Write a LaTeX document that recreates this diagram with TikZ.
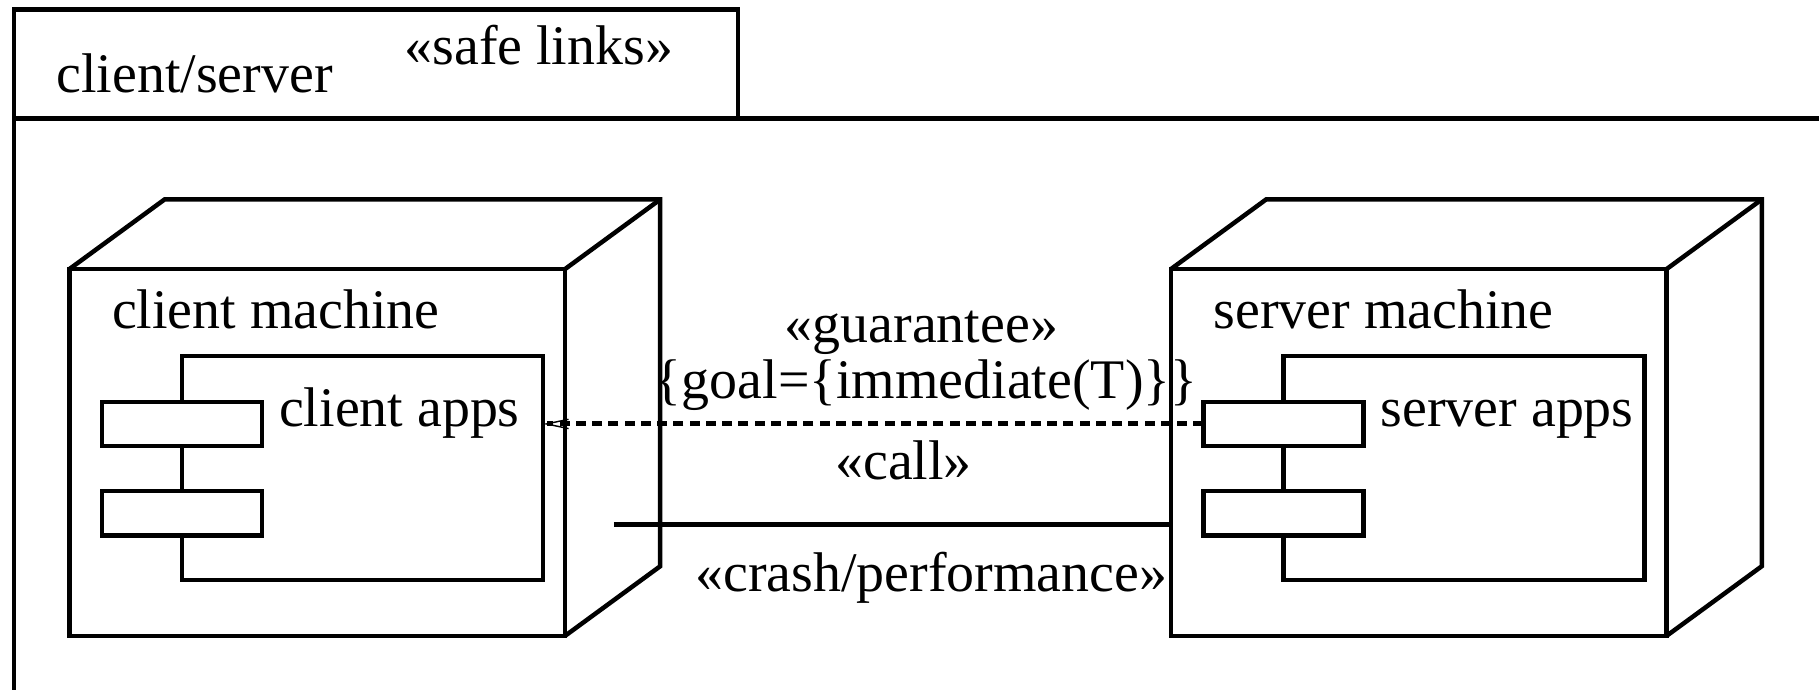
\documentclass[tikz,border=0pt]{standalone}
\usepackage{fontspec}
\setmainfont{Liberation Serif}
\usetikzlibrary{calc}
\usetikzlibrary{positioning}
\usetikzlibrary{arrows.meta}
% top and side faces of a deployment node
\newcommand{\nodedepth}[1]{%
	\draw[nodeline] (#1.north west) -- ++(82,-60) -| ($(#1.south east)+(82,-60)$) -- (#1.south east);
	\draw[nodeline] (#1.north east) -- ++(82,-60);}

\begin{document}
\begin{tikzpicture}[x=0.01cm,y=-0.01cm,on grid,>={Straight Barb[length=1.9mm,width=0.8mm,line width=0.35pt]},
		nodeline/.style={line width=1.1pt},
		front/.style={rectangle,draw=black,nodeline,outer sep=0pt,minimum width=4.27cm,minimum height=3.16cm},
		comp/.style={rectangle,draw=black,nodeline,outer sep=0pt,minimum width=3.11cm,minimum height=1.93cm},
		port/.style={rectangle,draw=black,fill=white,nodeline,outer sep=0pt,minimum width=1.38cm,minimum height=0.38cm},
		lbl/.style={inner sep=0pt,font=\fontsize{13.7}{16}\selectfont},
		dep/.style={line width=1.25pt,dash pattern=on 0.88mm off 0.52mm}]
	\useasboundingbox (0,0) rectangle (1568,594);
	% package frame with its tab
	\node[draw=black,nodeline,outer sep=0pt,anchor=north west,minimum width=6.24cm,minimum height=0.94cm] (tab) at (12,8) {};
	\draw[nodeline] (tab.north west) -- ++(0,650);
	\draw[nodeline] (tab.south west) -- ++(1600,0);
	\node[lbl,anchor=base west] (pkg)  at ($(tab.north west)+(36,72)$)  {client/server};
	\node[lbl,anchor=base west] (safe) at ($(tab.north west)+(336,48)$) {«safe links»};

	% client
	\node[front] (cfront) at (273.5,390) {};
	\nodedepth{cfront}
	\node[lbl,anchor=base west] (cname) at ($(cfront.north west)+(36,51)$) {client machine};
	\node[comp] (capps) at ($(cfront.center)+(39,13.5)$) {};
	\node[port] (cp1) at ($(capps.north west)+(0,58.5)$) {};
	\node[port] (cp2) at ($(capps.north west)+(0,135.5)$) {};
	\node[lbl,anchor=base west] (capps-txt) at ($(capps.north west)+(83,61)$) {client apps};

	% server
	\node[front] (sfront) [right=9.49cm of cfront] {};
	\nodedepth{sfront}
	\node[lbl,anchor=base west] (sname) at ($(sfront.north west)+(36,51)$) {server machine};
	\node[comp] (sapps) at ($(sfront.center)+(39,13.5)$) {};
	\node[port] (sp1) at ($(sapps.north west)+(0,58.5)$) {};
	\node[port] (sp2) at ($(sapps.north west)+(0,135.5)$) {};
	\node[lbl,anchor=base west] (sapps-txt) at ($(sapps.north west)+(83,61)$) {server apps};

	% links
	\draw[dep,->] (sp1.west) -- node[lbl,pos=0.42,anchor=base,yshift=0.22cm] (goal) {\{goal=\{immediate(T)\}\}} (sp1.west -| capps.east);
	\node[lbl,anchor=base] (guar) at ($(goal.base)+(-4,-48)$) {«guarantee»};
	\coordinate (clink) at ($(cfront.east)+(42,62)$);
	\draw[nodeline] (clink) -- node[lbl,pos=0.52,anchor=base,yshift=0.39cm] (call) {«call»}
		node[lbl,pos=0.57,anchor=base,yshift=-0.58cm] (crash) {«crash/performance»} (clink -| sfront.west);
\end{tikzpicture}
\end{document}
